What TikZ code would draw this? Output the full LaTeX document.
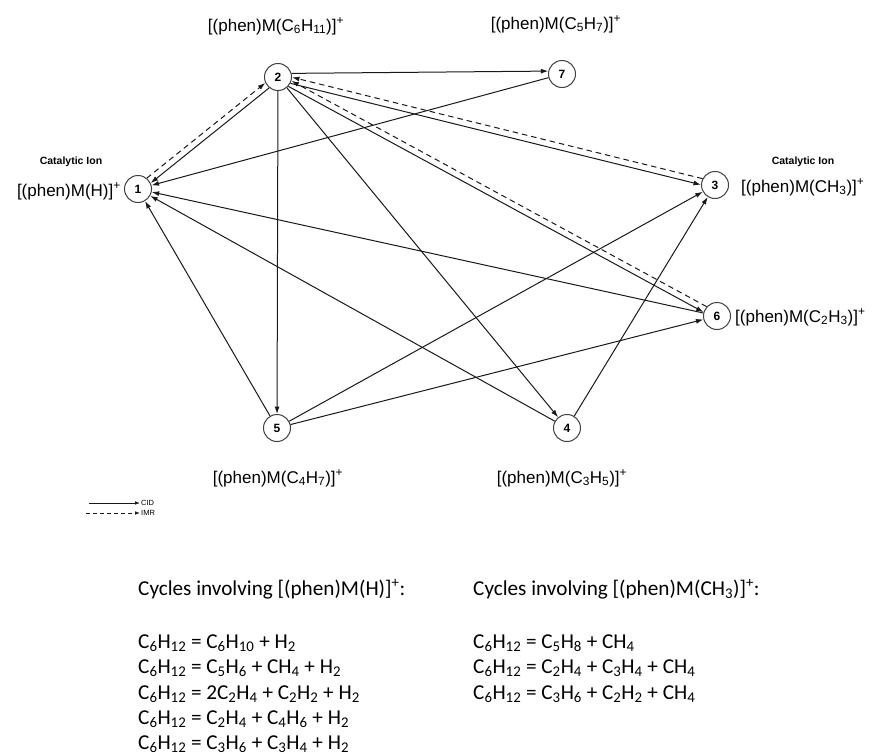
\documentclass[tikz,border=0pt]{standalone}
\usepackage{fontspec}
\setmainfont{Liberation Sans}
\newfontfamily\calfont{Carlito}
\usetikzlibrary{arrows.meta}
\newcommand\chsb[1]{\textsubscript{#1}}
\newcommand\chsp[1]{\textsuperscript{#1}}
\begin{document}
\begin{tikzpicture}[x=1pt,y=-1pt,
  ion/.style={circle,draw=black!75,line width=1pt,minimum size=27pt,inner sep=0pt,font=\fontsize{12}{14}\selectfont\bfseries},
  lbl/.style={font=\fontsize{17}{20}\selectfont,inner sep=0pt},
  cat/.style={font=\fontsize{10.5}{12}\selectfont\bfseries,inner sep=0pt},
  cid/.style={line width=1pt,draw=black!90,-{Latex[length=7.5pt,width=5pt]}},
  imr/.style={cid,dash pattern=on 5.5pt off 4pt},
  cyc/.style={font=\calfont\fontsize{21.2}{25}\selectfont,inner sep=0pt,anchor=base west},
  leg/.style={font=\fontsize{7.5}{9}\selectfont,inner sep=0pt,anchor=west}]
\useasboundingbox (0,0) rectangle (878,755);

% nodes
\node[ion] (n1) at (138,189) {1};
\node[ion] (n2) at (278,77) {2};
\node[ion] (n7) at (562,74) {7};
\node[ion] (n3) at (715,185) {3};
\node[ion] (n6) at (717,316) {6};
\node[ion] (n5) at (277,428) {5};
\node[ion] (n4) at (567,428) {4};

% labels
\node[lbl,anchor=base] (t2) at (276,31) {[(phen)M(C\chsb{6}H\chsb{11})]\chsp{+}};
\node[lbl,anchor=base] (t7) at (556,29) {[(phen)M(C\chsb{5}H\chsb{7})]\chsp{+}};
\node[cat,anchor=base] (c1) at (71,164) {Catalytic Ion};
\node[lbl,anchor=base east] (t1) at (121,196) {[(phen)M(H)]\chsp{+}};
\node[cat,anchor=base] (c3) at (803,164) {Catalytic Ion};
\node[lbl,anchor=base west] (t3) at (741,192) {[(phen)M(CH\chsb{3})]\chsp{+}};
\node[lbl,anchor=base west] (t6) at (735,322) {[(phen)M(C\chsb{2}H\chsb{3})]\chsp{+}};
\node[lbl,anchor=base] (t5) at (278,483) {[(phen)M(C\chsb{4}H\chsb{7})]\chsp{+}};
\node[lbl,anchor=base] (t4) at (562,483) {[(phen)M(C\chsb{3}H\chsb{5})]\chsp{+}};

% connectors
\draw[cid] (n2.15) -- (n7.168);
\draw[cid] (n7) -- (n1);
\draw[cid] (n2.231.66) -- (n1.25.66);
\draw[imr] (n1.51.66) -- (n2.205.66);
\draw[cid] (n2.333.12) -- (n3.179.12);
\draw[imr] (n3.153.12) -- (n2.359.12);
\draw[cid] (n2.318.43) -- (n6.164.43);
\draw[imr] (n6.138.43) -- (n2.344.43);
\draw[cid] (n2) -- (n5);
\draw[cid] (n2) -- (n4);
\draw[cid] (n6) -- (n1);
\draw[cid] (n4) -- (n1);
\draw[cid] (n5) -- (n1);
\draw[cid] (n5) -- (n3);
\draw[cid] (n5) -- (n6);
\draw[cid] (n4) -- (n3);

% legend
\coordinate (l1a) at (89,503);
\coordinate (l1b) at (140,503);
\coordinate (l2a) at (86,513);
\coordinate (l2b) at (140,513);
\draw[cid,line width=0.8pt,-{Latex[length=5pt,width=3.6pt]}] (l1a) -- (l1b);
\draw[imr,line width=0.8pt,dash pattern=on 4pt off 3pt,-{Latex[length=5pt,width=3.6pt]}] (l2a) -- (l2b);
\node[leg] (lc) at (141,503) {CID};
\node[leg] (li) at (141,513) {IMR};

% cycles
\node[cyc] (h0) at (138,595) {Cycles involving [(phen)M(H)]\chsp{+}:};
\node[cyc] (h1) at (138,648) {C\chsb{6}H\chsb{12} = C\chsb{6}H\chsb{10} + H\chsb{2}};
\node[cyc] (h2) at (138,673.5) {C\chsb{6}H\chsb{12} = C\chsb{5}H\chsb{6} + CH\chsb{4} + H\chsb{2}};
\node[cyc] (h3) at (138,699) {C\chsb{6}H\chsb{12} = 2C\chsb{2}H\chsb{4} + C\chsb{2}H\chsb{2} + H\chsb{2}};
\node[cyc] (h4) at (138,724.5) {C\chsb{6}H\chsb{12} = C\chsb{2}H\chsb{4} + C\chsb{4}H\chsb{6} + H\chsb{2}};
\node[cyc] (h5) at (138,749) {C\chsb{6}H\chsb{12} = C\chsb{3}H\chsb{6} + C\chsb{3}H\chsb{4} + H\chsb{2}};

\node[cyc] (m0) at (473,595) {Cycles involving [(phen)M(CH\chsb{3})]\chsp{+}:};
\node[cyc] (m1) at (473,648) {C\chsb{6}H\chsb{12} = C\chsb{5}H\chsb{8} + CH\chsb{4}};
\node[cyc] (m2) at (473,673.5) {C\chsb{6}H\chsb{12} = C\chsb{2}H\chsb{4} + C\chsb{3}H\chsb{4} + CH\chsb{4}};
\node[cyc] (m3) at (473,699) {C\chsb{6}H\chsb{12} = C\chsb{3}H\chsb{6} + C\chsb{2}H\chsb{2} + CH\chsb{4}};
\end{tikzpicture}
\end{document}
